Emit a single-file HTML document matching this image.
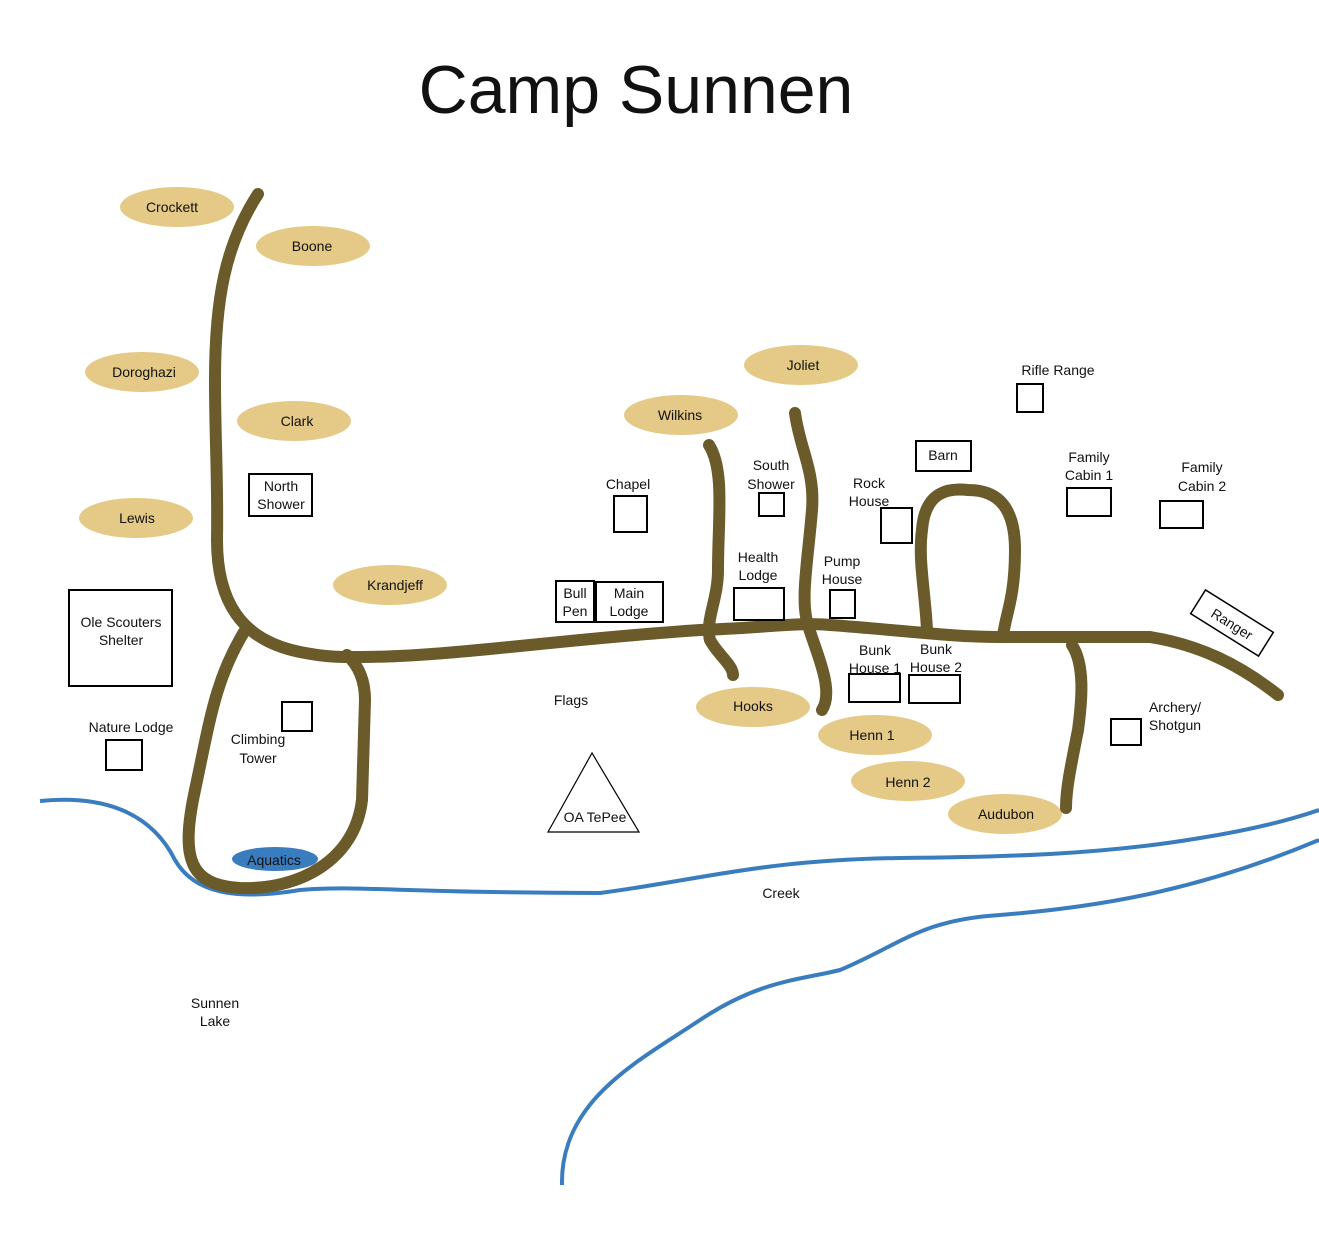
<!DOCTYPE html>
<html><head><style>
html,body{margin:0;padding:0;background:#fff}
svg text{font-family:"Liberation Sans",sans-serif;font-size:14px;fill:#111;text-anchor:middle}
</style></head><body>
<svg width="1319" height="1244" viewBox="0 0 1319 1244" xmlns="http://www.w3.org/2000/svg">
<text x="636" y="113" style="font-size:68px">Camp Sunnen</text>
<g fill="none" stroke="#3a7dbf" stroke-width="4">
<path d="M40,801 C100,795 150,810 175,860 C195,895 240,900 300,890 C360,885 400,893 600,893 C700,880 760,860 900,858 C1000,857 1100,855 1200,838 C1250,830 1290,820 1319,810"/>
<path d="M562,1185 C560,1100 640,1060 700,1020 C760,980 800,980 840,970 C900,945 920,920 1000,915 C1100,907 1200,890 1319,840"/>
</g>
<g fill="#e5c987">
<ellipse cx="177" cy="207" rx="57" ry="20"/>
<ellipse cx="313" cy="246" rx="57" ry="20"/>
<ellipse cx="142" cy="372" rx="57" ry="20"/>
<ellipse cx="294" cy="421" rx="57" ry="20"/>
<ellipse cx="136" cy="518" rx="57" ry="20"/>
<ellipse cx="390" cy="585" rx="57" ry="20"/>
<ellipse cx="801" cy="365" rx="57" ry="20"/>
<ellipse cx="681" cy="415" rx="57" ry="20"/>
<ellipse cx="753" cy="707" rx="57" ry="20"/>
<ellipse cx="875" cy="735" rx="57" ry="20"/>
<ellipse cx="908" cy="781" rx="57" ry="20"/>
<ellipse cx="1005" cy="814" rx="57" ry="20"/>
</g>
<ellipse cx="275" cy="859" rx="43" ry="12" fill="#3a7dbf"/>
<g fill="none" stroke="#6b5a2a" stroke-width="12" stroke-linecap="round">
<path d="M258,194 C225,245 215,300 215,380 C215,440 218,480 217,540 C217,600 240,640 300,652 C330,658 345,657 360,657 C450,657 550,640 700,630 C760,628 800,622 830,625 C900,630 950,637 1000,637 L1150,637 C1200,645 1240,665 1278,695"/>
<path d="M244,632 C215,680 210,720 195,790 C180,860 190,885 240,888 C300,890 355,860 362,800 L365,700 C365,680 358,665 347,655"/>
<path d="M709,445 C725,470 718,520 718,570 C718,600 705,620 710,640 C718,655 733,665 733,675"/>
<path d="M795,413 C800,450 815,470 812,510 C808,560 800,600 808,625 C815,650 835,690 822,710"/>
<path d="M927,630 C925,590 918,560 922,530 C925,490 950,488 968,490 C1000,490 1015,510 1015,550 C1015,600 1005,615 1003,637"/>
<path d="M1072,645 C1085,665 1082,700 1078,730 C1070,770 1066,790 1066,808"/>
</g>
<g fill="none" stroke="#000" stroke-width="2">
<rect x="249" y="474" width="63" height="42"/>
<rect x="69" y="590" width="103" height="96"/>
<rect x="106" y="740" width="36" height="30"/>
<rect x="282" y="702" width="30" height="29"/>
<rect x="614" y="496" width="33" height="36"/>
<rect x="759" y="493" width="25" height="23"/>
<rect x="881" y="508" width="31" height="35"/>
<rect x="916" y="441" width="55" height="30"/>
<rect x="1017" y="384" width="26" height="28"/>
<rect x="1067" y="488" width="44" height="28"/>
<rect x="1160" y="501" width="43" height="27"/>
<rect x="556" y="581" width="38" height="41"/>
<rect x="596" y="582" width="67" height="40"/>
<rect x="734" y="588" width="50" height="32"/>
<rect x="830" y="590" width="25" height="28"/>
<rect x="849" y="674" width="51" height="28"/>
<rect x="909" y="675" width="51" height="28"/>
<rect x="1111" y="719" width="30" height="26"/>
<rect x="-40" y="-14" width="80" height="28" transform="translate(1232,623) rotate(32)" stroke-width="1.5"/>
<polygon points="592,753 548,832 639,832" stroke-width="1.2"/>
</g>
<text x="172" y="212">Crockett</text>
<text x="312" y="251">Boone</text>
<text x="144" y="377">Doroghazi</text>
<text x="297" y="426">Clark</text>
<text x="137" y="523">Lewis</text>
<text x="395" y="590">Krandjeff</text>
<text x="803" y="370">Joliet</text>
<text x="680" y="420">Wilkins</text>
<text x="753" y="711">Hooks</text>
<text x="872" y="740">Henn 1</text>
<text x="908" y="787">Henn 2</text>
<text x="1006" y="819">Audubon</text>
<text x="274" y="865" style="fill:#111">Aquatics</text>
<text x="281" y="491">North</text><text x="281" y="509">Shower</text>
<text x="121" y="627">Ole Scouters</text><text x="121" y="645">Shelter</text>
<text x="131" y="732">Nature Lodge</text>
<text x="258" y="744">Climbing</text><text x="258" y="763">Tower</text>
<text x="628" y="489">Chapel</text>
<text x="771" y="470">South</text><text x="771" y="489">Shower</text>
<text x="869" y="488">Rock</text><text x="869" y="506">House</text>
<text x="943" y="460">Barn</text>
<text x="1058" y="375">Rifle Range</text>
<text x="1089" y="462">Family</text><text x="1089" y="480">Cabin 1</text>
<text x="1202" y="472">Family</text><text x="1202" y="491">Cabin 2</text>
<text x="575" y="598">Bull</text><text x="575" y="616">Pen</text>
<text x="629" y="598">Main</text><text x="629" y="616">Lodge</text>
<text x="758" y="562">Health</text><text x="758" y="580">Lodge</text>
<text x="842" y="566">Pump</text><text x="842" y="584">House</text>
<text x="875" y="655">Bunk</text><text x="875" y="673">House 1</text>
<text x="936" y="654">Bunk</text><text x="936" y="672">House 2</text>
<text x="1175" y="712">Archery/</text><text x="1175" y="730">Shotgun</text>
<text x="0" y="5" transform="translate(1232,624) rotate(32)">Ranger</text>
<text x="571" y="705">Flags</text>
<text x="595" y="822">OA TePee</text>
<text x="781" y="898">Creek</text>
<text x="215" y="1008">Sunnen</text><text x="215" y="1026">Lake</text>
</svg>
</body></html>
